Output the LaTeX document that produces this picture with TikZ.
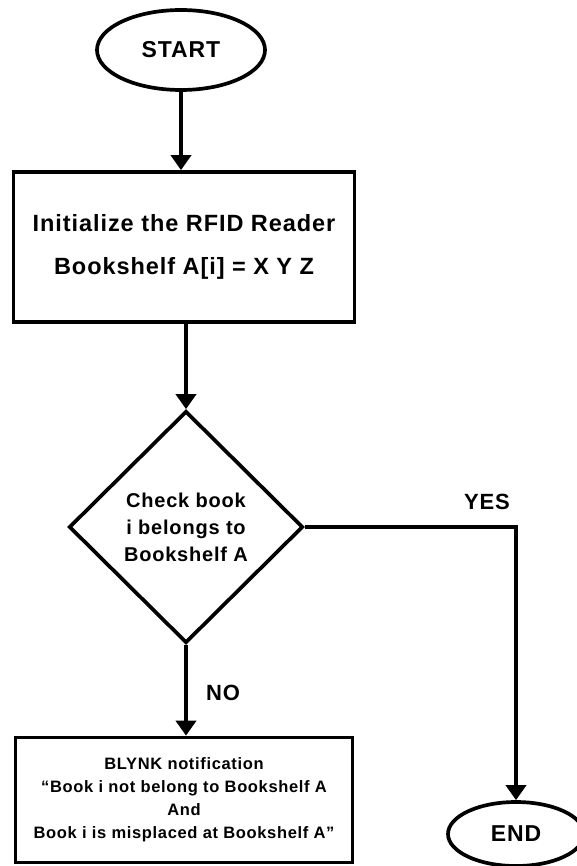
\documentclass[tikz,border=0pt]{standalone}
\usepackage{fontspec}
\setmainfont{Liberation Sans}[LetterSpace=4]
\usetikzlibrary{shapes.geometric,arrows.meta}

\begin{document}
\begin{tikzpicture}[x=1pt, y=-1pt, line width=3.7pt,
    term/.style={draw, ellipse, inner sep=0pt, font=\bfseries\fontsize{23}{27}\selectfont},
    procbox/.style={draw, rectangle, align=center, inner sep=0pt},
    decide/.style={draw, diamond, align=center, inner sep=0pt, font=\bfseries\fontsize{20}{27}\selectfont},
    lbl/.style={font=\bfseries\fontsize{22}{26}\selectfont},
    flow/.style={-{Triangle[width=20pt,length=15pt]}}]
    \useasboundingbox (0,0) rectangle (576,866);
    \node[term, minimum width=168pt, minimum height=80pt] (start) at (181, 50) {START};
    \node[procbox, minimum width=341pt, minimum height=150pt, font=\bfseries\fontsize{23.5}{43}\selectfont] (init) at (184, 247) {Initialize the RFID Reader\\Bookshelf A[i] = X Y Z};
    \node[decide, minimum width=234pt, minimum height=232pt] (check) at (186, 527) {Check book\\i belongs to\\Bookshelf A};
    \node[procbox, minimum width=337pt, minimum height=125pt, font=\bfseries\fontsize{16.5}{23}\selectfont] (notify) at (184, 800) {BLYNK notification\\``Book i not belong to Bookshelf A\\And\\Book i is misplaced at Bookshelf A''};
    \node[term, minimum width=136pt, minimum height=64pt] (end) at (516, 834) {END};
    \node[lbl] (yes) at (487, 502) {YES};
    \node[lbl] (no) at (223, 693) {NO};
    \draw[flow] (start) to (start |- init.north);
    \draw[flow] (init.south -| check.north) to (check.north);
    \draw[flow] (check.south) to (check.south |- notify.north);
    \draw[flow] (check.east) -| (end.north);
\end{tikzpicture}
\end{document}
